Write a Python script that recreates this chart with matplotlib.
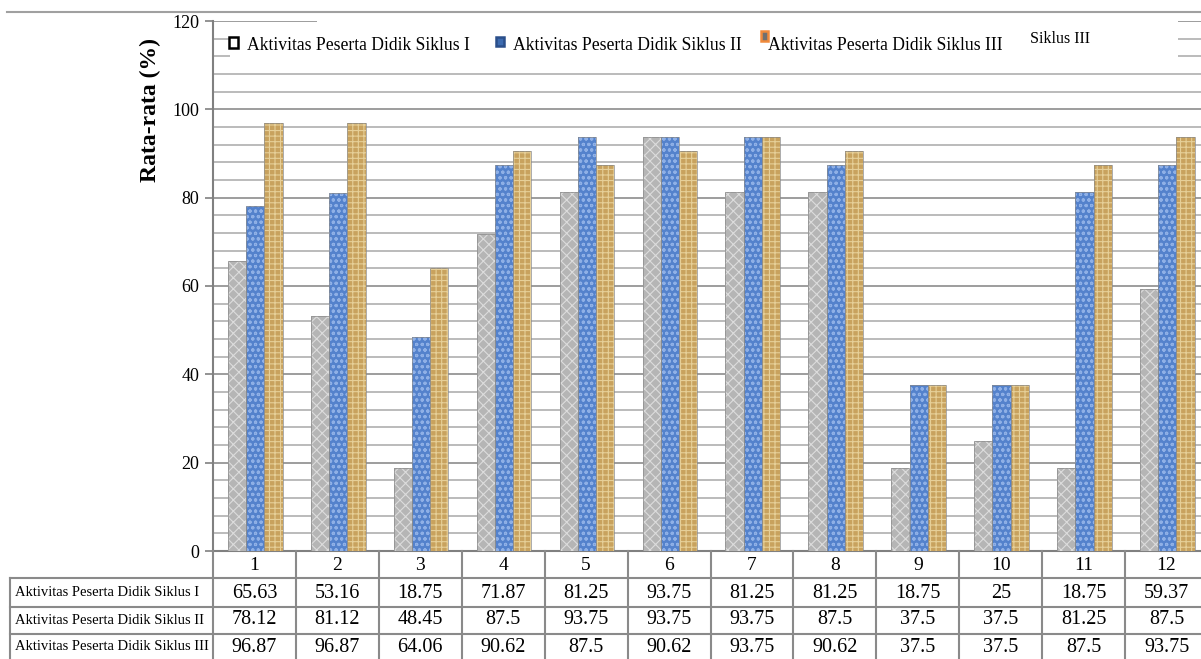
import numpy as np
import matplotlib
matplotlib.use('Agg')
import matplotlib.pyplot as plt
from matplotlib.patches import Rectangle
from matplotlib.transforms import blended_transform_factory

categories = ['1', '2', '3', '4', '5', '6', '7', '8', '9', '10', '11', '12']
series_names = ['Aktivitas Peserta Didik Siklus I',
                'Aktivitas Peserta Didik Siklus II',
                'Aktivitas Peserta Didik Siklus III']
siklus_1 = [65.63, 53.16, 18.75, 71.87, 81.25, 93.75, 81.25, 81.25, 18.75, 25, 18.75, 59.37]
siklus_2 = [78.12, 81.12, 48.45, 87.5, 93.75, 93.75, 93.75, 87.5, 37.5, 37.5, 81.25, 87.5]
siklus_3 = [96.87, 96.87, 64.06, 90.62, 87.5, 90.62, 93.75, 90.62, 37.5, 37.5, 87.5, 93.75]
cell_text = [['65.63', '53.16', '18.75', '71.87', '81.25', '93.75', '81.25', '81.25', '18.75', '25', '18.75', '59.37'],
             ['78.12', '81.12', '48.45', '87.5', '93.75', '93.75', '93.75', '87.5', '37.5', '37.5', '81.25', '87.5'],
             ['96.87', '96.87', '64.06', '90.62', '87.5', '90.62', '93.75', '90.62', '37.5', '37.5', '87.5', '93.75']]

plt.rcParams['font.family'] = ['Liberation Serif', 'DejaVu Serif']
plt.rcParams['hatch.linewidth'] = 0.8

W, H = 1201, 659
fig = plt.figure(figsize=(W / 100, H / 100), dpi=100)


def fx(px):
    return px / W


def fy(py):
    return 1 - py / H


ax = fig.add_axes([fx(213), fy(551), fx(1208) - fx(213), fy(21) - fy(551)])

x = np.arange(1, len(categories) + 1)
offsets = [-0.21, 0.01, 0.23]
width = 0.22
faces = ['#b5b5b5', '#5482cc', '#c8a25e']
hatch_cols = ['#dcdcdc', '#8fb0e6', '#e6cf98']
hatches = ['xxx', 'ooo', '+++']
for vals, off, fc, hc, ht in zip([siklus_1, siklus_2, siklus_3], offsets, faces, hatch_cols, hatches):
    ax.bar(x + off, vals, width, color=fc, edgecolor='none', zorder=3)
    ax.bar(x + off, vals, width, facecolor='none', edgecolor=hc, hatch=ht, linewidth=0, zorder=4)
    ax.bar(x + off, vals, width, facecolor='none', edgecolor='#8a8a8a', linewidth=0.5, zorder=5)

ax.set_xlim(0.5, 12.5)
ax.set_ylim(0, 120)
ax.set_yticks(np.arange(0, 121, 20))
ax.set_yticks(np.arange(0, 121, 4), minor=True)
ax.tick_params(axis='y', which='major', length=6, width=1.2, color='#808080', labelsize=13, pad=4)
ax.tick_params(axis='y', which='minor', length=0)
ax.set_xticks([])
ax.grid(axis='y', which='major', color='#8c8c8c', lw=1.2, zorder=0)
ax.grid(axis='y', which='minor', color='#a8a8a8', lw=1.1, zorder=0)
for s in ['top', 'right']:
    ax.spines[s].set_visible(False)
ax.spines['left'].set_color('#808080')
ax.spines['left'].set_linewidth(1.5)
ax.spines['bottom'].set_color('#808080')
ax.spines['bottom'].set_linewidth(1.5)

fig.text(fx(150), fy(110), 'Rata-rata (%)', rotation=90, fontsize=17,
         fontweight='bold', ha='center', va='center')

# top border line
fig.add_artist(plt.Line2D([fx(7), 1], [fy(12), fy(12)], color='#a0a0a0', lw=1.5))

# legend area (white cover over grid)
fig.add_artist(Rectangle((fx(230), fy(66)), fx(1178) - fx(230), fy(30) - fy(66),
                         transform=fig.transFigure, facecolor='white', edgecolor='none', zorder=2))
fig.add_artist(Rectangle((fx(317), fy(66)), fx(1178) - fx(317), fy(15) - fy(66),
                         transform=fig.transFigure, facecolor='white', edgecolor='none', zorder=2))

leg_marks = [(229, 37, 9, 11, 'white', 'black'),
             (496, 37, 8, 9, '#3d6bb0', '#2b4f8a'),
             (761, 31, 7, 10, '#707070', '#f08a3c')]
leg_text_x = [247, 513, 768]
for (mx, my, mw, mh, mfc, mec), tx, name in zip(leg_marks, leg_text_x, series_names):
    fig.add_artist(Rectangle((fx(mx), fy(my + mh)), mw / W, mh / H, transform=fig.transFigure,
                             facecolor=mfc, edgecolor=mec, lw=1.8, zorder=3))
    fig.text(fx(tx), fy(45), name, fontsize=12.7, ha='left', va='center', zorder=4)
fig.text(fx(1030), fy(39), 'Siklus III', fontsize=11.5, ha='left', va='center', zorder=4)

# data table below the axis
tr = blended_transform_factory(ax.transData, fig.transFigure)
line_kw = dict(color='#8a8a8a', lw=1.5, clip_on=False)
row_tops = [551, 578, 607, 634, 662]
row_mid = [565, 593, 620, 647]
edges = np.arange(0.5, 13.0, 1.0)
for e in edges:
    fig.add_artist(plt.Line2D([e, e], [fy(row_tops[0]), fy(row_tops[-1])], transform=tr, **line_kw))
for yy in row_tops[1:]:
    fig.add_artist(plt.Line2D([fx(10), 1], [fy(yy), fy(yy)], **line_kw))
fig.add_artist(plt.Line2D([fx(10), fx(10)], [fy(578), fy(662)], **line_kw))

for i, c in enumerate(categories):
    fig.text(x[i], fy(row_mid[0]), c, transform=tr, ha='center', va='center', fontsize=14)
for r, name in enumerate(series_names):
    fig.text(fx(15), fy(row_mid[r + 1]), name, ha='left', va='center', fontsize=10.5)
    for i, t in enumerate(cell_text[r]):
        fig.text(x[i], fy(row_mid[r + 1]), t, transform=tr, ha='center', va='center', fontsize=14.5)

fig.savefig('out.png', dpi=100)
